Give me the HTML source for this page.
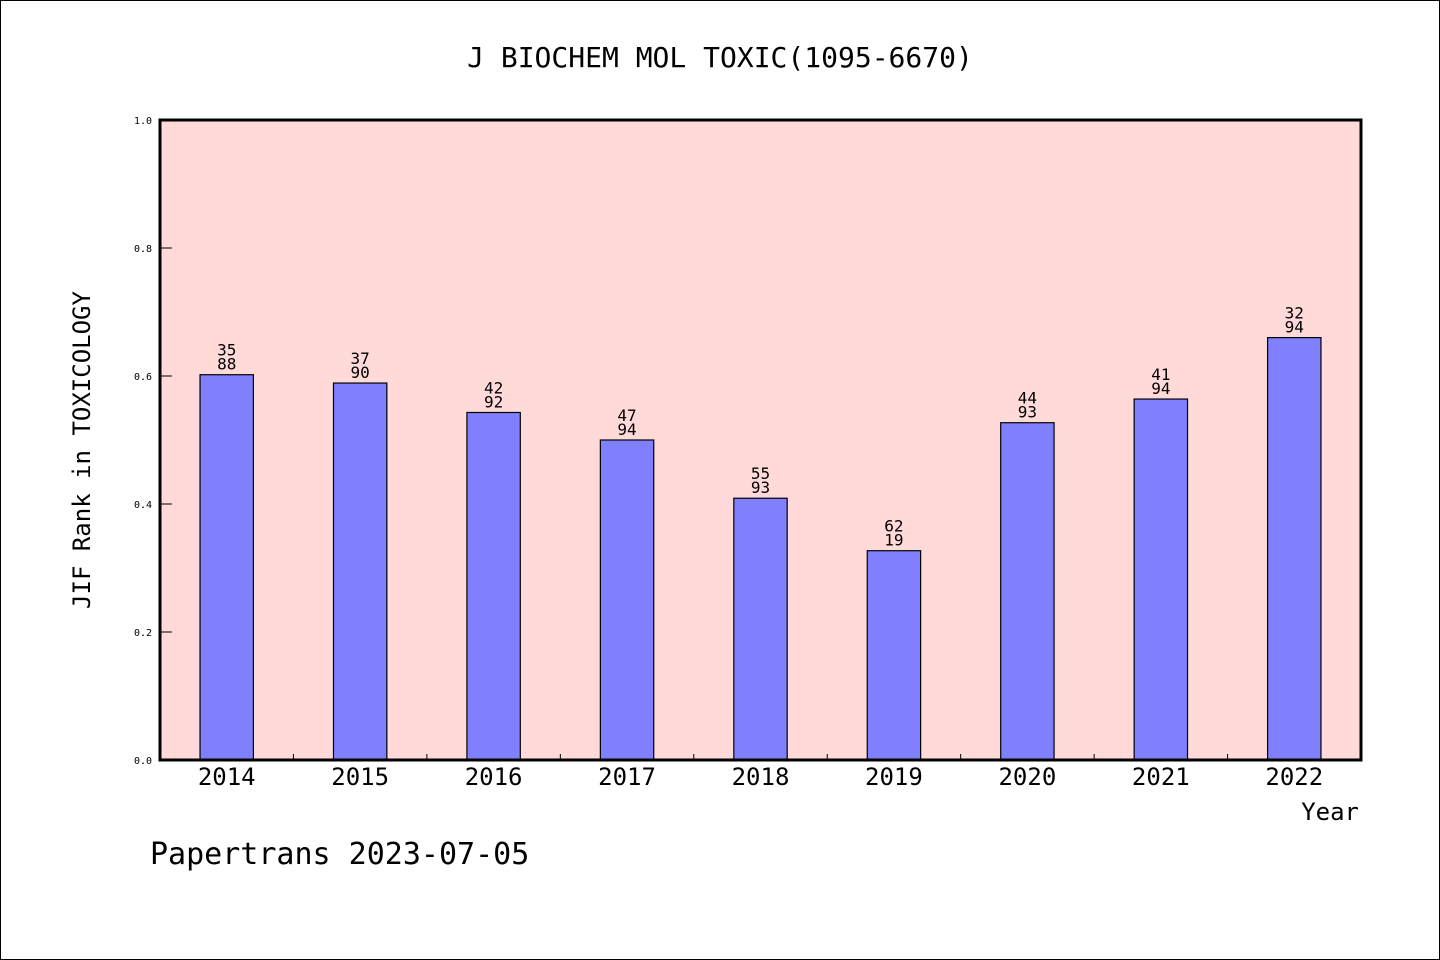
<!DOCTYPE html>
<html><head><meta charset="utf-8"><style>
body{margin:0;background:#fff}
svg{display:block}
text{font-family:"DejaVu Sans Mono","Liberation Mono",monospace;fill:#000}
</style></head><body>
<svg id="c" width="1440" height="960" viewBox="0 0 1440 960">
<rect x="0.5" y="0.5" width="1439" height="959" fill="#fff" stroke="#000"/>
<text x="720" y="67" font-size="28" text-anchor="middle">J BIOCHEM MOL TOXIC(1095-6670)</text>
<rect x="160" y="120" width="1201" height="640" fill="#ffdad8"/>
<g id="bars"></g>
<g id="axes"></g>
<rect x="160" y="120" width="1201" height="640" fill="none" stroke="#000" stroke-width="3"/>
<text x="90" y="450" font-size="24" text-anchor="middle" transform="rotate(-90 90 450)">JIF Rank in TOXICOLOGY</text>
<text x="1359" y="820" font-size="24" text-anchor="end">Year</text>
<text x="150" y="864" font-size="30">Papertrans 2023-07-05</text>
</svg>
<script>
const years=["2014","2015","2016","2017","2018","2019","2020","2021","2022"];
const values=[0.602,0.589,0.543,0.500,0.409,0.327,0.527,0.564,0.660];
const ranks=["35","37","42","47","55","62","44","41","32"];
const totals=["88","90","92","94","93","19","93","94","94"];
const yTicks=["0.0","0.2","0.4","0.6","0.8","1.0"];
const NS="http://www.w3.org/2000/svg";
const X0=160,X1=1361,Y0=760,Y1=120;
const band=(X1-X0)/years.length;
const xc=i=>X0+band*(i+0.5);
const y=v=>Y0-(Y0-Y1)*v;
function mk(t,a,p){const e=document.createElementNS(NS,t);for(const k in a)e.setAttribute(k,a[k]);p.appendChild(e);return e;}
const bars=document.getElementById('bars'),axes=document.getElementById('axes');
const bw=band*0.4;
years.forEach((yr,i)=>{
  const r=mk('rect',{x:xc(i)-bw/2,y:y(values[i]),width:bw,height:Y0-y(values[i]),fill:'#8080ff',stroke:'#000','stroke-width':1.2},bars);
  
  
  const t1=mk('text',{x:xc(i),y:y(values[i])-19,'font-size':16,'text-anchor':'middle'},bars);t1.textContent=ranks[i];
  
  
  const t2=mk('text',{x:xc(i),y:y(values[i])-5,'font-size':16,'text-anchor':'middle'},bars);t2.textContent=totals[i];
  
  
  const xl=mk('text',{x:xc(i),y:785,'font-size':24,'text-anchor':'middle'},axes);xl.textContent=yr;
  
  
  if(i>0){const tk=mk('line',{x1:X0+band*i,x2:X0+band*i,y1:Y0,y2:Y0-6,stroke:'#000','stroke-width':1},axes);
    
    }
});
yTicks.forEach((lab,i)=>{
  const v=parseFloat(lab);
  const tk=mk('line',{x1:X0,x2:X0+12,y1:y(v),y2:y(v),stroke:'#000','stroke-width':1},axes);
  
  
  const t=mk('text',{x:152,y:y(v)+4,'font-size':10,'text-anchor':'end'},axes);t.textContent=lab;
  
  
});
</script>
</body></html>
